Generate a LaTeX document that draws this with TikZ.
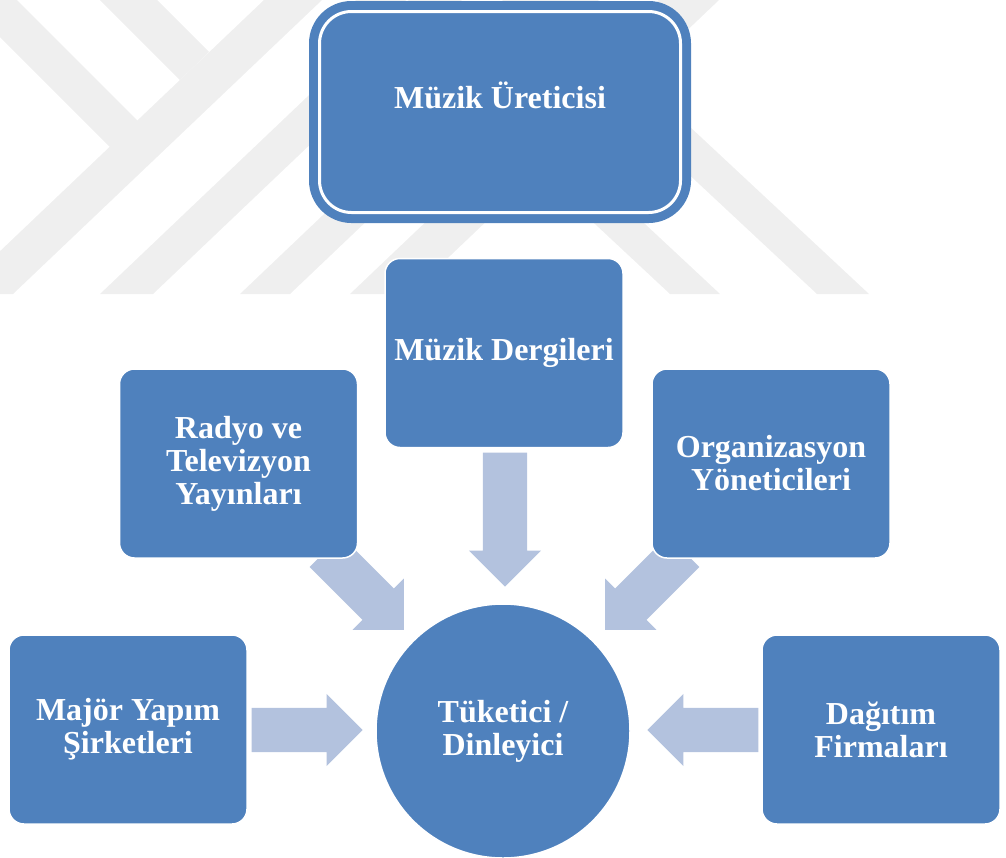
\documentclass[tikz,border=0pt]{standalone}
\usepackage{fontspec}
\setmainfont{Liberation Serif}
\usepackage{tikz}
\usetikzlibrary{positioning,shapes.arrows}

\definecolor{boxblue}{HTML}{4F81BD}
\definecolor{arrowblue}{HTML}{B3C2DE}
\definecolor{wmark}{HTML}{EFEFEF}

\begin{document}
\begin{tikzpicture}[x=1pt,y=-1pt,
    boxtext/.style={text=white, align=center, font=\fontsize{32}{33}\selectfont\bfseries},
    box/.style={boxtext, rectangle, rounded corners=15, fill=boxblue, draw=white,
      line width=1.5, minimum width=238, minimum height=189, inner sep=2},
    topbox/.style={boxtext, rectangle, rounded corners=32, fill=boxblue, draw=boxblue,
      line width=9, double=white, double distance=3, minimum width=361,
      minimum height=201, text height=22, text depth=30},
    endbox/.style={boxtext, circle, fill=boxblue, draw=white, line width=1.5,
      minimum size=254, inner sep=0},
    flow/.style={single arrow, fill=arrowblue, draw=none, inner sep=0,
      text height=44, text depth=0, minimum height=111,
      single arrow head extend=14, single arrow tip angle=90, anchor=tip}]
  \useasboundingbox (0,0) rectangle (1006,857);

  % faint logo in the back
  \begin{scope}
    \clip (0,0) rectangle (1006,294);
    \fill[wmark] (0,0) -- (17,0) -- (138,121) -- (110,147) -- (0,37) -- cycle;
    \fill[wmark] (100,0) -- (157,0) -- (209,52) -- (180,80) -- cycle;
    \foreach \a/\b in {-45/13, 100/153, 240/290, 350/410}
      \fill[wmark] (\a,294) -- (\b,294) -- (\b+309,0) -- (\a+309,0) -- cycle;
    \foreach \a/\b in {817/869, 670/720}
      \fill[wmark] (\a,294) -- (\b,294) -- (\b-315,0) -- (\a-315,0) -- cycle;
  \end{scope}

  % arrows into the listener
  \node[flow, rotate=-90, minimum height=134] (f_dergi) at (505,587) {};
  \node[flow, rotate=-45]  (f_radyo)   at (404,630) {};
  \node[flow, rotate=-135] (f_org)     at (605,630) {};
  \node[flow]              (f_major)   at (363,730) {};
  \node[flow, rotate=180]  (f_dagitim) at (647,730) {};

  \node[topbox] (prod)    at (500,112)   {Müzik Üreticisi};
  \node[box]    (dergi)   at (504,353)   {Müzik Dergileri};
  \node[box]    (radyo)   at (238.5,463.5) {Radyo ve\\Televizyon\\Yayınları};
  \node[box]    (org)     at (771,463.5) {Organizasyon\\Yöneticileri};
  \node[box]    (major)   at (128,729.5) {Majör Yapım\\Şirketleri};
  \node[box]    (dagitim) at (881,729.5) {Dağıtım\\Firmaları};
  \node[endbox] (cons)    at (503,731)   {Tüketici /\\Dinleyici};
\end{tikzpicture}
\end{document}
